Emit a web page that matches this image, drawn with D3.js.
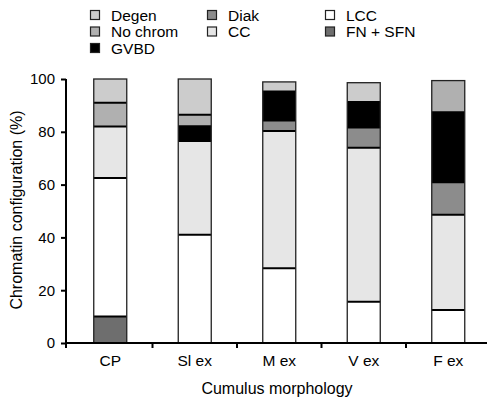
<!DOCTYPE html>
<html>
<head>
<meta charset="utf-8">
<script src="https://cdn.jsdelivr.net/npm/d3@7"></script>
<style>
  html, body { margin: 0; padding: 0; background: #fff; }
  svg { display: block; font-family: "Liberation Sans", Arial, sans-serif; }
</style>
</head>
<body>
<svg id="chart" width="487" height="401"></svg>
<script>
// Cumulus morphology groups
const categories = ["CP", "Sl ex", "M ex", "V ex", "F ex"];

// Chromatin configuration shares (%), stacked bottom to top
const seriesNames = ["FN + SFN", "LCC", "CC", "Diak", "GVBD", "No chrom", "Degen"];
const fnSfn   = [10,   0,    0,    0,    0];
const lcc     = [52.5, 41,   28.3, 15.6, 12.5];
const cc      = [19.5, 35.5, 52,   58.4, 36.1];
const diak    = [0,    0,    4,    7.6,  12.3];
const gvbd    = [0,    5.6,  11,   9.7,  26.5];
const noChrom = [9,    4.4,  0,    0,    12];
const degen   = [9,    13.5, 3.6,  7.3,  0];

const yTicks = [0, 20, 40, 60, 80, 100];

const fills = {
  "FN + SFN": "#6e6e6e",
  "LCC": "#ffffff",
  "CC": "#e6e6e6",
  "Diak": "#8c8c8c",
  "GVBD": "#000000",
  "No chrom": "#b0b0b0",
  "Degen": "#cccccc"
};

const valuesBySeries = [fnSfn, lcc, cc, diak, gvbd, noChrom, degen];
const table = categories.map((c, i) => {
  const row = { cat: c };
  seriesNames.forEach((s, k) => { row[s] = valuesBySeries[k][i]; });
  return row;
});

const svg = d3.select("#chart");
const FONT = "Liberation Sans, Arial, sans-serif";

const x = d3.scaleBand().domain(categories).range([68, 490.5]).paddingInner(0).paddingOuter(0);
const y = d3.scaleLinear().domain([0, 100]).range([343, 79]);
const barW = 33;

const stack = d3.stack().keys(seriesNames);
const layers = stack(table);

const barsG = svg.append("g");

// filled segments
layers.forEach(layer => {
  barsG.append("g")
    .selectAll("rect")
    .data(layer)
    .join("rect")
    .attr("x", d => x(d.data.cat) + x.bandwidth() / 2 - barW / 2)
    .attr("y", d => y(d[1]))
    .attr("width", barW)
    .attr("height", d => Math.max(0, y(d[0]) - y(d[1])))
    .attr("fill", fills[layer.key]);
});

// heavy dividers between a segment and the next non-empty one above it
const dividers = [];
layers.forEach((layer, k) => {
  layer.forEach((d, i) => {
    const v = d[1] - d[0];
    const above = seriesNames.slice(k + 1).some(s => table[i][s] > 0);
    if (v > 0 && above) dividers.push({ cat: d.data.cat, top: d[1] });
  });
});
barsG.append("g")
  .selectAll("line")
  .data(dividers)
  .join("line")
  .attr("x1", d => x(d.cat) + x.bandwidth() / 2 - barW / 2)
  .attr("x2", d => x(d.cat) + x.bandwidth() / 2 + barW / 2)
  .attr("y1", d => y(d.top))
  .attr("y2", d => y(d.top))
  .attr("stroke", "#000")
  .attr("stroke-width", 2);

// bar outlines
barsG.append("g")
  .selectAll("rect")
  .data(table)
  .join("rect")
  .attr("x", d => x(d.cat) + x.bandwidth() / 2 - barW / 2)
  .attr("y", d => y(d3.sum(seriesNames, s => d[s])))
  .attr("width", barW)
  .attr("height", d => y(0) - y(d3.sum(seriesNames, s => d[s])))
  .attr("fill", "none")
  .attr("stroke", "#222")
  .attr("stroke-width", 1.3);

// y axis
const yAxis = d3.axisLeft(y).tickValues(yTicks).tickSize(5).tickPadding(6);
const yg = svg.append("g").attr("transform", "translate(66,0)").call(yAxis);
yg.select(".domain").attr("stroke-width", 2).attr("d", "M0,79V348");
yg.selectAll(".tick line").attr("stroke-width", 2);
yg.selectAll(".tick text").attr("font-size", 15).attr("fill", "#000")
  .attr("font-family", FONT);

// x axis with ticks at the band boundaries
const xAxis = d3.axisBottom(x).tickSize(0).tickPadding(12);
const xg = svg.append("g").attr("transform", "translate(0,343)").call(xAxis);
xg.select(".domain").attr("stroke-width", 2).attr("d", "M65,0H487");
xg.selectAll(".tick text").attr("font-size", 15.5).attr("fill", "#000")
  .attr("font-family", FONT);
xg.selectAll(".sep")
  .data(categories.slice(1))
  .join("line")
  .attr("class", "sep")
  .attr("x1", d => x(d)).attr("x2", d => x(d))
  .attr("y1", 0).attr("y2", 5)
  .attr("stroke", "#000").attr("stroke-width", 2);

// axis titles
svg.append("text")
  .attr("x", 277).attr("y", 394)
  .attr("text-anchor", "middle")
  .attr("font-size", 16)
  .text("Cumulus morphology");

svg.append("text")
  .attr("transform", "translate(22,210) rotate(-90)")
  .attr("text-anchor", "middle")
  .attr("font-size", 16)
  .text("Chromatin configuration (%)");

// legend
const legendItems = [
  { name: "Degen", col: 0, row: 0 },
  { name: "No chrom", col: 0, row: 1 },
  { name: "GVBD", col: 0, row: 2 },
  { name: "Diak", col: 1, row: 0 },
  { name: "CC", col: 1, row: 1 },
  { name: "LCC", col: 2, row: 0 },
  { name: "FN + SFN", col: 2, row: 1 }
];
const colX = [90, 207, 325];
const rowY = [15, 31.5, 48];
const lg = svg.append("g").selectAll("g").data(legendItems).join("g")
  .attr("transform", d => `translate(${colX[d.col]},${rowY[d.row]})`);
lg.append("rect")
  .attr("x", 0.5).attr("y", -4.5).attr("width", 9).attr("height", 9)
  .attr("fill", d => fills[d.name])
  .attr("stroke", "#222").attr("stroke-width", 1.2);
lg.append("text")
  .attr("x", 21).attr("y", 5.5)
  .attr("font-size", 15.5)
  .text(d => d.name);
</script>
</body>
</html>
